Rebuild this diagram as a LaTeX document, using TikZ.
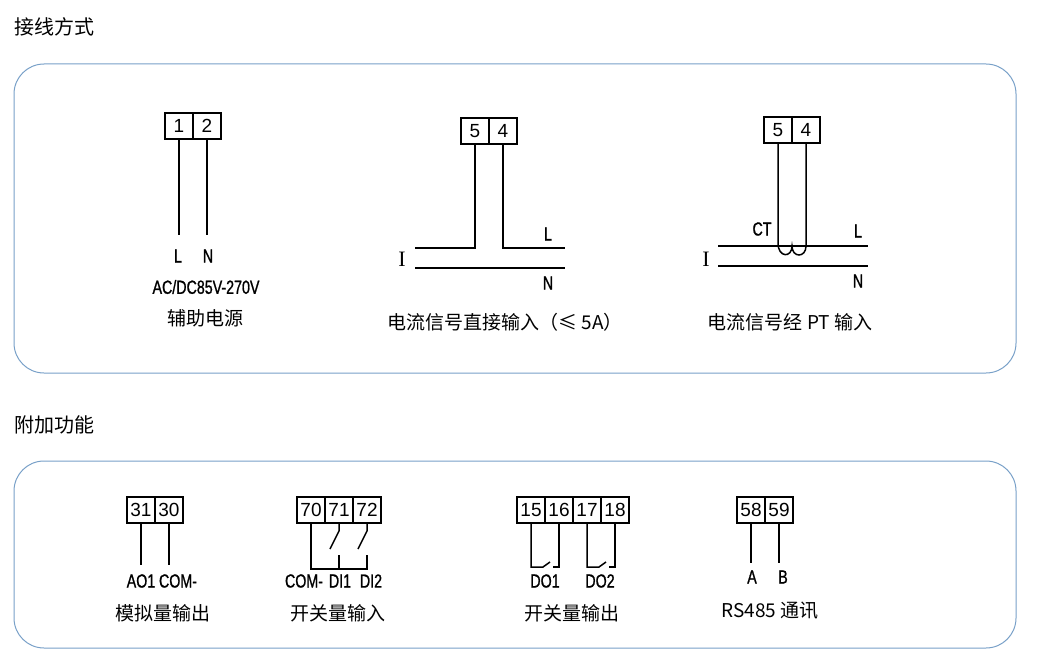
\documentclass[tikz,border=0pt]{standalone}
\usepackage{fontspec}
\setmainfont{Liberation Sans}
\newfontfamily\cjk{Noto Sans CJK SC}
\newfontfamily\serf{Liberation Serif}
\newfontfamily\narrowf[FakeStretch=0.75,FakeBold=1]{Liberation Sans}
\definecolor{framec}{RGB}{120,160,200}
\begin{document}
\begin{tikzpicture}[x=1pt,y=-1pt,
  frame/.style={draw=framec, line width=1pt, rounded corners=30pt},
  cell/.style={draw, line width=1.2pt, minimum width=28pt, minimum height=26pt, inner sep=0pt, font=\fontsize{19}{19}\selectfont},
  wire/.style={line width=1.5pt},
  lab/.style={font=\narrowf\fontsize{19}{19}\selectfont, inner sep=0pt},
  ivar/.style={font=\serf\fontsize{22}{22}\selectfont, inner sep=0pt},
  captxt/.style={font=\cjk\fontsize{19}{19}\selectfont, inner sep=0pt},
  ttl/.style={font=\cjk\fontsize{20}{20}\selectfont, inner sep=0pt, anchor=west}]
\useasboundingbox (0,0) rectangle (1041,669);
\node[ttl] (t1) at (14,27) {接线方式};
\node[ttl] (t2) at (14,425) {附加功能};
\draw[frame] (14,64) rectangle (1016,373);
\draw[frame] (14,461) rectangle (1016,648);
% panel 1
\node[cell] (a1) at (179,126) {1};
\node[cell] (a2) at (207,126) {2};
\coordinate (a1e) at (179,235); \coordinate (a2e) at (207,235);
\draw[wire] (a1) -- (a1e); \draw[wire] (a2) -- (a2e);
\node[lab] (aL) at (178,256) {L};
\node[lab] (aN) at (208,256) {N};
\node[lab] (acdc) at (206,287) {AC/DC85V-270V};
\node[captxt] (aux) at (205,318) {辅助电源};
% panel 2
\node[cell] (b5) at (475,131) {5};
\node[cell] (b4) at (503,131) {4};
\coordinate (b5c) at (475,248); \coordinate (b5e) at (415,248);
\coordinate (b4c) at (503,248); \coordinate (b4e) at (565,248);
\coordinate (bn1) at (415,268); \coordinate (bn2) at (565,268);
\draw[wire] (b5) -- (b5c) -- (b5e);
\draw[wire] (b4) -- (b4c) -- (b4e);
\draw[wire] (bn1) -- (bn2);
\node[ivar] (bI) at (402,259) {I};
\node[lab] (bL) at (548,234) {L};
\node[lab] (bN) at (548,283) {N};
\node[captxt] (bcap) at (505,322) {电流信号直接输入（≤ 5A）};
% panel 3
\node[cell] (c5) at (778,130) {5};
\node[cell] (c4) at (806,130) {4};
\coordinate (cl1) at (718,246); \coordinate (cl2) at (868,246);
\coordinate (cn1) at (718,266); \coordinate (cn2) at (868,266);
\coordinate (cp) at (778,243); \coordinate (cq) at (806,243);
\draw[wire] (cl1) -- (cl2);
\draw[wire] (cn1) -- (cn2);
\draw[wire] (c5) -- (cp) .. controls (778,258) and (792,258) .. (792,246) .. controls (792,258) and (806,258) .. (806,246) -- (cq) -- (c4);
\node[ivar] (cI) at (706,259) {I};
\node[lab] (cCT) at (762,229) {CT};
\node[lab] (cL) at (858,231) {L};
\node[lab] (cN) at (858,281) {N};
\node[captxt] (ccap) at (790,322) {电流信号经 PT 输入};
% panel 4: 31 30
\node[cell] (d31) at (141,510) {31};
\node[cell] (d30) at (169,510) {30};
\coordinate (d31e) at (141,565); \coordinate (d30e) at (169,565);
\draw[wire] (d31) -- (d31e); \draw[wire] (d30) -- (d30e);
\node[lab] (dAO) at (141,581) {AO1};
\node[lab] (dCOM) at (178,581) {COM-};
\node[captxt] (dcap) at (163,613) {模拟量输出};
% 70 71 72
\node[cell] (e70) at (311,510) {70};
\node[cell] (e71) at (339,510) {71};
\node[cell] (e72) at (367,510) {72};
\coordinate (e70b) at (311,569); \coordinate (e72b) at (367,569);
\draw[wire] (e70) -- (e70b) -- (e72b) -- (367,555);
\draw[wire] (339,569) -- (339,555);
\draw[wire] (e71) -- (339,531) -- (330,549);
\draw[wire] (e72) -- (367,531) -- (358,549);
\node[lab] (eCOM) at (304,581) {COM-};
\node[lab] (eDI1) at (340,581) {DI1};
\node[lab] (eDI2) at (371,581) {DI2};
\node[captxt] (ecap) at (338,613) {开关量输入};
% 15 16 17 18
\node[cell] (f15) at (531,510) {15};
\node[cell] (f16) at (559,510) {16};
\node[cell] (f17) at (587,510) {17};
\node[cell] (f18) at (615,510) {18};
\draw[wire] (f15) -- (531,567) -- (543,567) -- (550,562);
\draw[wire] (f16) -- (559,567) -- (553,567);
\draw[wire] (f17) -- (587,567) -- (599,567) -- (606,562);
\draw[wire] (f18) -- (615,567) -- (609,567);
\node[lab] (fDO1) at (545,581) {DO1};
\node[lab] (fDO2) at (600,581) {DO2};
\node[captxt] (fcap) at (572,613) {开关量输出};
% 58 59
\node[cell] (g58) at (751,510) {58};
\node[cell] (g59) at (779,510) {59};
\coordinate (g58e) at (751,563); \coordinate (g59e) at (779,563);
\draw[wire] (g58) -- (g58e); \draw[wire] (g59) -- (g59e);
\node[lab] (gA) at (752,577) {A};
\node[lab] (gB) at (783,577) {B};
\node[captxt] (gcap) at (770,611) {RS485 通讯};
\end{tikzpicture}
\end{document}
